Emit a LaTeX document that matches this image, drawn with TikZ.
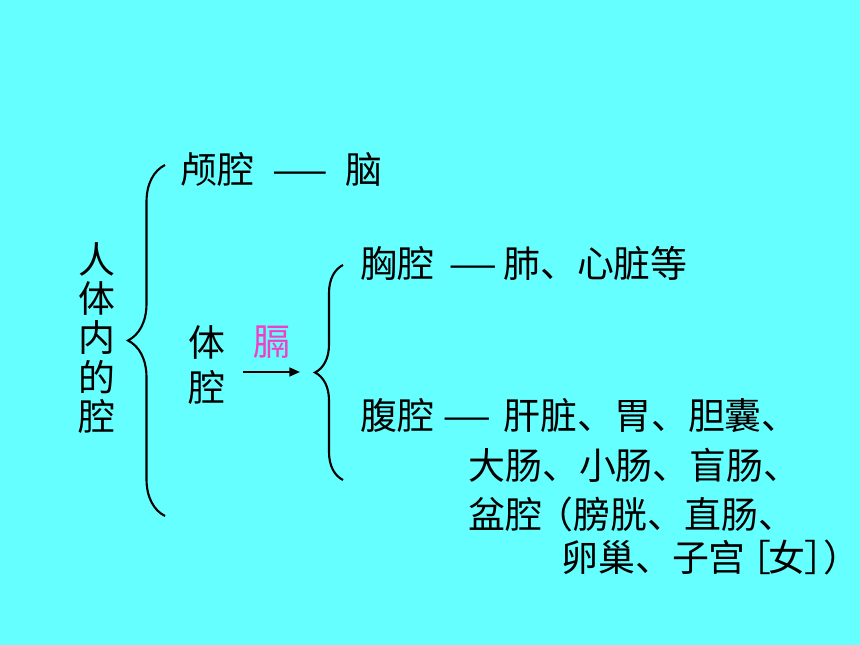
\documentclass[tikz,border=0pt]{standalone}
\usepackage{fontspec}
\usepackage{graphicx}
\setmainfont{Noto Sans CJK SC}
\usetikzlibrary{arrows.meta,decorations.pathreplacing}
\definecolor{slidebg}{HTML}{66FFFF}
\definecolor{diaphragm}{HTML}{F040C8}
\tikzset{
  every node/.style={inner sep=0pt,font=\fontsize{21}{25}\selectfont},
  item/.style={anchor=west},
  cavbrace/.style={decorate,decoration={brace,amplitude=#1},line width=1.2pt},
  arr/.style={-{Triangle[length=6pt,width=5pt]},line width=1.1pt}
}
\newcommand{\cavline}[3]{\node[item] at (#1) (#2) {#3}}
\newcommand{\longdash}[1]{\scalebox{#1}[1]{—}}

\begin{document}
\begin{tikzpicture}
	\fill[slidebg] (0,0) rectangle (17.2,12.9);
	\useasboundingbox (0,0) rectangle (17.2,12.9);

	\node[align=center,font=\fontsize{21}{22.4}\selectfont] at (1.94,6.14) (body) {人\\体\\内\\的\\腔};
	\coordinate (b1bot) at (3.30,2.58);
	\coordinate (b1top) at (3.30,9.60);
	\draw[cavbrace=0.74cm] (b1bot) -- (b1top);

	\cavline{3.60,9.50}{cranial}{颅腔\hspace{.46em}\longdash{1.75}\hspace{.46em}脑};
	\node[align=center,font=\fontsize{21}{26}\selectfont] at (4.14,5.60) (trunk) {体\\腔};
	\node[text=diaphragm] at (5.44,6.06) (ge) {膈};

	\coordinate (arrs) at (4.86,5.46);
	\coordinate (b2tip) at (6.30,5.46);
	\draw[arr] (arrs) -- ([xshift=-0.3cm]b2tip);

	\coordinate (b2bot) at (6.86,3.30);
	\coordinate (b2top) at (6.86,7.60);
	\draw[cavbrace=0.56cm] (b2bot) -- (b2top);

	\cavline{7.20,7.64}{thorax}{胸腔\hspace{.4em}\longdash{1.5}\hspace{.13em}肺、心脏等};
	\cavline{7.20,4.60}{abdomen}{腹腔\hspace{.22em}\longdash{1.5}\hspace{.32em}肝脏、胃、胆囊、};
	\cavline{9.36,3.60}{gut}{大肠、小肠、盲肠、};
	\cavline{9.36,2.62}{pelvis}{盆腔\kern-.15em（膀胱、直肠、};
	\cavline{11.22,1.76}{female}{卵巢、子宫\kern-.3em［\kern-.1em女］\kern-.5em）\kern-.5em};
\end{tikzpicture}
\end{document}
